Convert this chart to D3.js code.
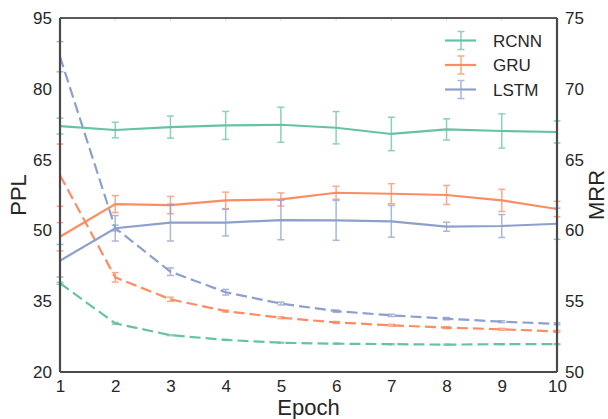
<!DOCTYPE html>
<html>
<head>
<meta charset="utf-8">
<script src="https://cdn.jsdelivr.net/npm/d3@7"></script>
<style>
  body { margin: 0; background: #fff; }
  svg text { font-family: "Liberation Sans", Arial, sans-serif; fill: #262626; }
</style>
</head>
<body>
<div id="chart"></div>
<script>
// epochs on the x axis
const epochs = [1, 2, 3, 4, 5, 6, 7, 8, 9, 10];
const models = ["RCNN", "GRU", "LSTM"];
const colors = ["#66c2a5", "#fc8d62", "#8da0cb"];

// MRR (right axis, solid lines)
const mrrRCNN = [67.37, 67.09, 67.30, 67.41, 67.46, 67.25, 66.81, 67.13, 67.02, 66.95];
const mrrRCNNErr = [0.56, 0.55, 0.78, 0.99, 1.24, 1.14, 1.18, 0.75, 1.21, 0.78];
const mrrGRU = [59.55, 61.86, 61.79, 62.12, 62.19, 62.66, 62.59, 62.50, 62.12, 61.51];
const mrrGRUErr = [1.0, 0.6, 0.61, 0.58, 0.46, 0.46, 0.71, 0.67, 0.78, 0.54];
const mrrLSTM = [57.86, 60.15, 60.55, 60.55, 60.73, 60.71, 60.64, 60.26, 60.31, 60.47];
const mrrLSTMErr = [1.15, 0.9, 1.3, 0.94, 1.39, 1.41, 1.12, 0.32, 0.81, 1.1];

// PPL (left axis, dashed lines)
const pplRCNN = [38.8, 30.3, 27.8, 26.8, 26.2, 26.0, 25.9, 25.8, 25.9, 25.9];
const pplRCNNErr = [0.2, 0.2, 0.1, 0.1, 0.1, 0.1, 0.1, 0.1, 0.1, 0.1];
const pplGRU = [61.7, 40.06, 35.4, 32.9, 31.5, 30.5, 29.9, 29.4, 29.05, 28.6];
const pplGRUErr = [6.6, 1.0, 0.45, 0.2, 0.2, 0.2, 0.2, 0.2, 0.2, 0.2];
const pplLSTM = [86.8, 50.5, 41.25, 36.9, 34.5, 32.9, 32.0, 31.3, 30.66, 30.2];
const pplLSTMErr = [3.2, 0.6, 0.8, 0.6, 0.3, 0.25, 0.25, 0.25, 0.2, 0.2];

const pplTicks = [20, 35, 50, 65, 80, 95];
const mrrTicks = [50, 55, 60, 65, 70, 75];

const mrrSeries = [mrrRCNN, mrrGRU, mrrLSTM];
const mrrErrs = [mrrRCNNErr, mrrGRUErr, mrrLSTMErr];
const pplSeries = [pplRCNN, pplGRU, pplLSTM];
const pplErrs = [pplRCNNErr, pplGRUErr, pplLSTMErr];

const width = 608, height = 419;
const margin = { top: 18, right: 51, bottom: 47, left: 60 };
const w = width - margin.left - margin.right;
const h = height - margin.top - margin.bottom;

const svg = d3.select("#chart").append("svg")
    .attr("width", width)
    .attr("height", height);

const g = svg.append("g")
    .attr("transform", `translate(${margin.left},${margin.top})`);

const x = d3.scaleLinear().domain([1, 10]).range([0, w]);
const yL = d3.scaleLinear().domain([20, 95]).range([h, 0]);
const yR = d3.scaleLinear().domain([50, 75]).range([h, 0]);

// small light ticks along top spine
g.selectAll(".topTick")
    .data(epochs)
    .enter().append("line")
    .attr("x1", d => x(d)).attr("x2", d => x(d))
    .attr("y1", 0).attr("y2", 3)
    .attr("stroke", "#ddd").attr("stroke-width", 1);

// draw one series with error bars
function drawSeries(vals, errs, y, color, dashed) {
    const pts = epochs.map((e, i) => ({ e: e, v: vals[i], err: errs[i] }));
    const line = d3.line().x(d => x(d.e)).y(d => y(d.v));

    const eb = g.append("g").attr("stroke", color).attr("stroke-width", 1.5).attr("opacity", 0.75);
    pts.forEach(d => {
        const cx = x(d.e), y0 = y(d.v - d.err), y1 = y(d.v + d.err);
        eb.append("line").attr("x1", cx).attr("x2", cx).attr("y1", y0).attr("y2", y1);
        eb.append("line").attr("x1", cx - 3.5).attr("x2", cx + 3.5).attr("y1", y0).attr("y2", y0);
        eb.append("line").attr("x1", cx - 3.5).attr("x2", cx + 3.5).attr("y1", y1).attr("y2", y1);
    });

    g.append("path")
        .datum(pts)
        .attr("d", line)
        .attr("fill", "none")
        .attr("stroke", color)
        .attr("stroke-width", 2.2)
        .attr("stroke-dasharray", dashed ? "11,5" : null);
}

models.forEach((m, i) => drawSeries(pplSeries[i], pplErrs[i], yL, colors[i], true));
models.forEach((m, i) => drawSeries(mrrSeries[i], mrrErrs[i], yR, colors[i], false));

// spines
g.append("line").attr("x1", 0).attr("x2", w).attr("y1", 0).attr("y2", 0)
    .attr("stroke", "#222").attr("stroke-width", 1.3);
g.append("line").attr("x1", 0).attr("x2", 0).attr("y1", 0).attr("y2", h)
    .attr("stroke", "#4a4a4a").attr("stroke-width", 2.2);
g.append("line").attr("x1", w).attr("x2", w).attr("y1", 0).attr("y2", h)
    .attr("stroke", "#4a4a4a").attr("stroke-width", 2.2);
g.append("line").attr("x1", 0).attr("x2", w).attr("y1", h).attr("y2", h)
    .attr("stroke", "#4a4a4a").attr("stroke-width", 2.2);

// axes (labels only, no tick lines)
const xAxis = g.append("g")
    .attr("transform", `translate(0,${h})`)
    .call(d3.axisBottom(x).tickValues(epochs).tickSize(0).tickPadding(8));
const leftAxis = g.append("g")
    .call(d3.axisLeft(yL).tickValues(pplTicks).tickSize(0).tickPadding(8));
const rightAxis = g.append("g")
    .attr("transform", `translate(${w},0)`)
    .call(d3.axisRight(yR).tickValues(mrrTicks).tickSize(0).tickPadding(8));

[xAxis, leftAxis, rightAxis].forEach(a => {
    a.select(".domain").remove();
    a.selectAll("text").attr("font-size", "17px").attr("fill", "#262626")
        .style("font-family", "'Liberation Sans', Arial, sans-serif");
});

// axis titles
svg.append("text")
    .attr("transform", `translate(26,${margin.top + h / 2}) rotate(-90)`)
    .attr("text-anchor", "middle")
    .attr("font-size", "22px")
    .text("PPL");
svg.append("text")
    .attr("transform", `translate(604,${margin.top + h / 2}) rotate(-90)`)
    .attr("text-anchor", "middle")
    .attr("font-size", "22px")
    .text("MRR");
svg.append("text")
    .attr("x", margin.left + w / 2)
    .attr("y", 415)
    .attr("text-anchor", "middle")
    .attr("font-size", "22px")
    .text("Epoch");

// legend
const legend = svg.append("g");
models.forEach((m, i) => {
    const ly = 40.5 + i * 24.5;
    const lg = legend.append("g").attr("transform", `translate(445,${ly})`);
    lg.append("line").attr("x1", 0).attr("x2", 31).attr("y1", 0).attr("y2", 0)
        .attr("stroke", colors[i]).attr("stroke-width", 2.2);
    lg.append("g").attr("stroke", colors[i]).attr("stroke-width", 1.5).attr("opacity", 0.75)
        .call(s => {
            s.append("line").attr("x1", 16).attr("x2", 16).attr("y1", -9).attr("y2", 9);
            s.append("line").attr("x1", 12.5).attr("x2", 19.5).attr("y1", -9).attr("y2", -9);
            s.append("line").attr("x1", 12.5).attr("x2", 19.5).attr("y1", 9).attr("y2", 9);
        });
    lg.append("text")
        .attr("x", 48).attr("y", 6)
        .attr("font-size", "17px")
        .text(m);
});
</script>
</body>
</html>
